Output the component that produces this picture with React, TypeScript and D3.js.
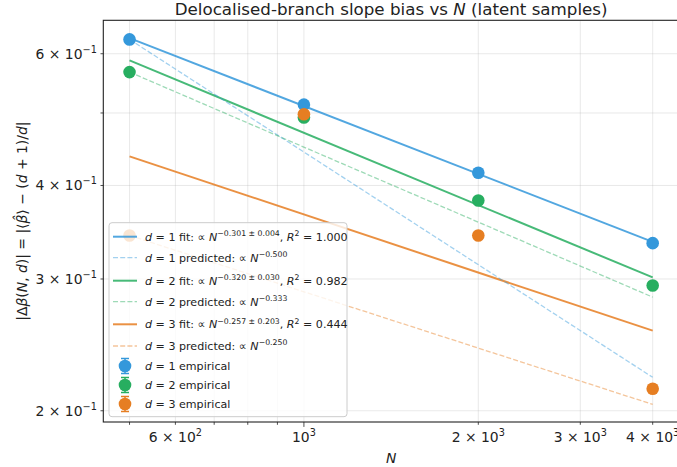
import React from "react";
import * as d3 from "d3";

const W = 677;
const H = 467;
const FONT = "DejaVu Sans";

const Nvals = [500, 1000, 2000, 4000];
const emp1 = [0.627, 0.513, 0.416, 0.335];
const emp2 = [0.567, 0.493, 0.382, 0.294];
const emp3 = [0.343, 0.498, 0.343, 0.214];
const predExp = [-0.5, -0.333, -0.25];
const colors = ["#3498db", "#27ae60", "#e67e22"];
const dims = ["1", "2", "3"];
const fitExpText = ["−0.301 ± 0.004", "−0.320 ± 0.030", "−0.257 ± 0.203"];
const fitR2Text = ["1.000", "0.982", "0.444"];
const predExpText = ["−0.500", "−0.333", "−0.250"];
const xMinorTicks = [500, 600, 700, 800, 900, 2000, 3000, 4000];
const xMajorTicks = [1000];
const xTickLabels: [number, string, string][] = [
  [600, "6 × 10", "2"],
  [1000, "10", "3"],
  [2000, "2 × 10", "3"],
  [3000, "3 × 10", "3"],
  [4000, "4 × 10", "3"],
];
const yMinorTicks = [0.2, 0.3, 0.4, 0.5, 0.6];
const yTickLabels: [number, string][] = [
  [0.6, "6"],
  [0.4, "4"],
  [0.3, "3"],
  [0.2, "2"],
];

type Seg = { t: string; i?: boolean; s?: boolean };

function Rich({ segs, fs }: { segs: Seg[]; fs: number }) {
  let cur = 0;
  return (
    <>
      {segs.map((sg, k) => {
        const target = sg.s ? -0.42 * fs : 0;
        const dy = target - cur;
        cur = target;
        return (
          <tspan
            key={k}
            dy={dy}
            fontStyle={sg.i ? "italic" : "normal"}
            fontSize={sg.s ? fs * 0.7 : fs}
          >
            {sg.t}
          </tspan>
        );
      })}
    </>
  );
}

function fit(xs: number[], ys: number[]) {
  const lx = xs.map(Math.log10);
  const ly = ys.map(Math.log10);
  const mx = d3.mean(lx)!;
  const my = d3.mean(ly)!;
  let c = 0,
    v = 0;
  lx.forEach((x, i) => {
    c += (x - mx) * (ly[i] - my);
    v += (x - mx) * (x - mx);
  });
  const b = c / v;
  const a = my - b * mx;
  return (n: number) => Math.pow(10, a + b * Math.log10(n));
}

export default function App() {
  const left = 103.3,
    right = 679,
    top = 20.3,
    bottom = 422;
  const x = d3.scaleLog().domain([450.5, 4441]).range([left, right]);
  const y = d3.scaleLog().domain([0.1932, 0.665]).range([bottom, top]);
  const emps = [emp1, emp2, emp3];
  const line = d3
    .line<[number, number]>()
    .x((d) => x(d[0]))
    .y((d) => y(d[1]));

  const nLo = Nvals[0];
  const nHi = Nvals[Nvals.length - 1];

  const fits = emps.map((e) => fit(Nvals, e));
  const preds = emps.map((e, i) => (n: number) => e[0] * Math.pow(n / nLo, predExp[i]));

  const legendRows: { kind: string; ci: number; segs: Seg[]; yc: number }[] = [];
  const rowY = [236.7, 257.7, 280.7, 301.7, 324.3, 346, 366, 385, 404];
  let r = 0;
  for (let i = 0; i < 3; i++) {
    legendRows.push({
      kind: "fit",
      ci: i,
      yc: rowY[r++],
      segs: [
        { t: "d", i: true },
        { t: " = " + dims[i] + " fit: ∝ " },
        { t: "N", i: true },
        { t: fitExpText[i], s: true },
        { t: ", " },
        { t: "R", i: true },
        { t: "2", s: true },
        { t: " = " + fitR2Text[i] },
      ],
    });
    legendRows.push({
      kind: "pred",
      ci: i,
      yc: rowY[r++],
      segs: [
        { t: "d", i: true },
        { t: " = " + dims[i] + " predicted: ∝ " },
        { t: "N", i: true },
        { t: predExpText[i], s: true },
      ],
    });
  }
  for (let i = 0; i < 3; i++) {
    legendRows.push({
      kind: "emp",
      ci: i,
      yc: rowY[r++],
      segs: [{ t: "d", i: true }, { t: " = " + dims[i] + " empirical" }],
    });
  }

  const gridX = [...xMinorTicks, ...xMajorTicks];
  const ylabel: Seg[] = [
    { t: "|Δ" },
    { t: "β", i: true },
    { t: "(" },
    { t: "N", i: true },
    { t: ", " },
    { t: "d", i: true },
    { t: ")| = |⟨" },
    { t: "β̂", i: true },
    { t: "⟩ − (" },
    { t: "d", i: true },
    { t: " + 1)/" },
    { t: "d", i: true },
    { t: "|" },
  ];

  return (
    <svg
      width={W}
      height={H}
      style={{ position: "fixed", left: 0, top: 0, background: "#fff" }}
      fontFamily={FONT}
    >
      <rect x={0} y={0} width={W} height={H} fill="#fff" />
      <defs>
        <clipPath id="plotclip">
          <rect x={left} y={top} width={right - left} height={bottom - top} />
        </clipPath>
      </defs>
      {/* grid */}
      <g stroke="#b0b0b0" strokeOpacity={0.35} strokeWidth={0.8}>
        {gridX.map((t) => (
          <line key={"gx" + t} x1={x(t)} x2={x(t)} y1={top} y2={bottom} />
        ))}
        {yMinorTicks.map((t) => (
          <line key={"gy" + t} x1={left} x2={right} y1={y(t)} y2={y(t)} />
        ))}
      </g>
      <g clipPath="url(#plotclip)" fill="none">
        {fits.map((f, i) => (
          <path
            key={"f" + i}
            d={line([
              [nLo, f(nLo)],
              [nHi, f(nHi)],
            ])!}
            stroke={colors[i]}
            strokeWidth={2}
            strokeOpacity={0.85}
          />
        ))}
        {preds.map((f, i) => (
          <path
            key={"p" + i}
            d={line([
              [nLo, f(nLo)],
              [nHi, f(nHi)],
            ])!}
            stroke={colors[i]}
            strokeWidth={1.3}
            strokeOpacity={0.45}
            strokeDasharray="5,2.2"
          />
        ))}
        {emps.map((e, i) =>
          e.map((v, j) => (
            <circle key={"c" + i + j} cx={x(Nvals[j])} cy={y(v)} r={6.3} fill={colors[i]} />
          ))
        )}
      </g>
      {/* frame */}
      <rect x={left} y={top} width={right - left} height={bottom - top} fill="none" stroke="#222" strokeWidth={1.1} />
      {/* ticks */}
      <g stroke="#222" strokeWidth={0.8}>
        {xMinorTicks.map((t) => (
          <line key={"xt" + t} x1={x(t)} x2={x(t)} y1={bottom} y2={bottom + 2.8} />
        ))}
        {xMajorTicks.map((t) => (
          <line key={"xM" + t} x1={x(t)} x2={x(t)} y1={bottom} y2={bottom + 4.9} />
        ))}
        {yMinorTicks.map((t) => (
          <line key={"yt" + t} x1={left - 2.8} x2={left} y1={y(t)} y2={y(t)} />
        ))}
      </g>
      <g fontSize={13.9} fill="#222">
        {xTickLabels.map(([v, base, sup]) => (
          <text key={"xl" + v} x={x(v)} y={bottom + 20} textAnchor="middle">
            <tspan>{base}</tspan>
            <tspan dy={-6} fontSize={9.7}>
              {sup}
            </tspan>
          </text>
        ))}
        {yTickLabels.map(([v, m]) => (
          <text key={"yl" + v} x={left - 6.5} y={y(v) + 5} textAnchor="end">
            <tspan>{m + " × 10"}</tspan>
            <tspan dy={-6} fontSize={9.7}>
              −1
            </tspan>
          </text>
        ))}
      </g>
      {/* labels */}
      <text x={(left + right) / 2} y={15} textAnchor="middle" fontSize={16.7} fill="#222">
        <tspan>Delocalised-branch slope bias vs </tspan>
        <tspan fontStyle="italic">N</tspan>
        <tspan> (latent samples)</tspan>
      </text>
      <text x={(left + right) / 2} y={463} textAnchor="middle" fontSize={13.9} fontStyle="italic" fill="#222">
        N
      </text>
      <text
        transform={`translate(27, ${(top + bottom) / 2}) rotate(-90)`}
        textAnchor="middle"
        fontSize={13.9}
        fill="#222"
      >
        <Rich segs={ylabel} fs={13.9} />
      </text>
      {/* legend */}
      <rect x={109} y={222.7} width={238} height={194} rx={3} fill="#fff" fillOpacity={0.8} stroke="#cccccc" strokeWidth={1} />
      {legendRows.map((row, k) => {
        const c = colors[row.ci];
        let handle;
        if (row.kind === "fit") {
          handle = <line x1={113} x2={137} y1={row.yc} y2={row.yc} stroke={c} strokeWidth={2} strokeOpacity={0.85} />;
        } else if (row.kind === "pred") {
          handle = (
            <line x1={113} x2={137} y1={row.yc} y2={row.yc} stroke={c} strokeWidth={1.3} strokeOpacity={0.45} strokeDasharray="5,2.2" />
          );
        } else {
          handle = (
            <g>
              <line x1={125} x2={125} y1={row.yc - 7.5} y2={row.yc + 7.5} stroke={c} strokeWidth={1.5} />
              <line x1={121} x2={129} y1={row.yc - 7.5} y2={row.yc - 7.5} stroke={c} strokeWidth={1.5} />
              <line x1={121} x2={129} y1={row.yc + 7.5} y2={row.yc + 7.5} stroke={c} strokeWidth={1.5} />
              <circle cx={125} cy={row.yc} r={6.3} fill={c} />
            </g>
          );
        }
        return (
          <g key={"lg" + k}>
            {handle}
            <text x={145} y={row.yc + 4} fontSize={11.1} fill="#222">
              <Rich segs={row.segs} fs={11.1} />
            </text>
          </g>
        );
      })}
    </svg>
  );
}
